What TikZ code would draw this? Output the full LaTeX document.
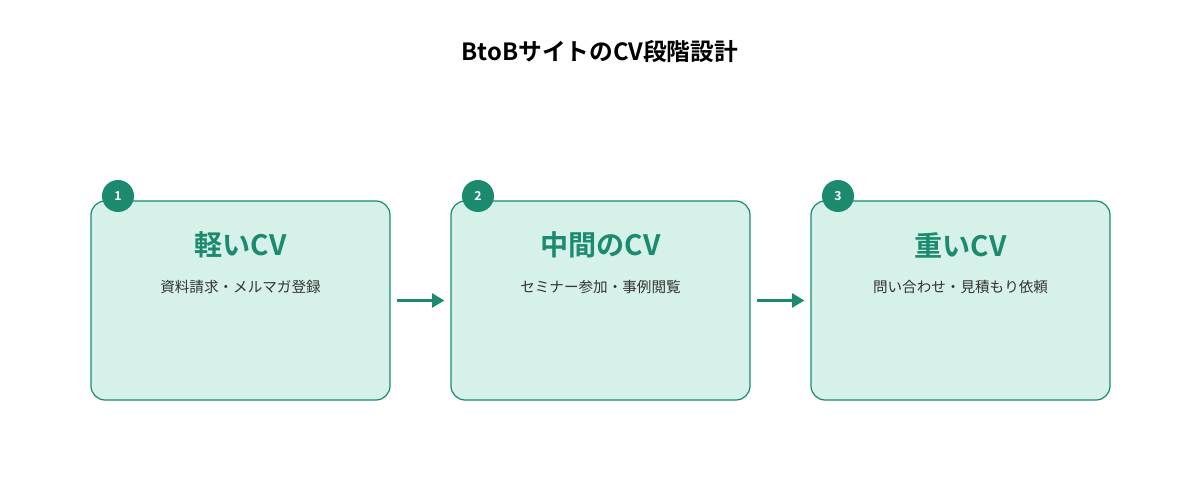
\documentclass[tikz,border=0pt]{standalone}
\usepackage{fontspec}
\setmainfont{Noto Sans CJK JP}[BoldFont={Noto Sans CJK JP Bold}]
\usetikzlibrary{arrows.meta,positioning}
\definecolor{cvteal}{HTML}{1B8A6F}
\definecolor{cvfill}{HTML}{D6F1E9}
\definecolor{cvtext}{HTML}{333333}
\tikzset{
    stage/.style={draw=cvteal, fill=cvfill, line width=0.7pt, rounded corners=8pt,
        minimum width=5.98cm, minimum height=3.98cm},
    badge/.style={circle, fill=cvteal, inner sep=0pt, minimum size=0.64cm,
        text=white, font=\bfseries\fontsize{7}{8}\selectfont},
    head/.style={text=cvteal, font=\bfseries\fontsize{16}{18}\selectfont},
    sub/.style={text=cvtext, font=\fontsize{8.3}{10}\selectfont},
    cvarrow/.style={-{Triangle[length=7pt,width=8pt]}, draw=cvteal, line width=1.3pt}}

\begin{document}
\begin{tikzpicture}
\useasboundingbox (0,0) rectangle (24,-10);
\node[font=\bfseries\fontsize{13.5}{16}\selectfont] (title) at (12,-1.04) {BtoBサイトのCV段階設計};

\node[stage] (s1) at (4.81,-6.01) {};
\node[stage] (s2) at (12.01,-6.01) {};
\node[stage] (s3) at (19.21,-6.01) {};

\node[badge] (b1) at (2.36,-3.92) {1};
\node[badge] (b2) at (9.56,-3.92) {2};
\node[badge] (b3) at (16.76,-3.92) {3};

\node[head] (h1) at (4.81,-4.9) {軽いCV};
\node[head] (h2) at (12.01,-4.9) {中間のCV};
\node[head] (h3) at (19.21,-4.9) {重いCV};

\node[sub] (t1) at (4.81,-5.74) {資料請求・メルマガ登録};
\node[sub] (t2) at (12.01,-5.74) {セミナー参加・事例閲覧};
\node[sub] (t3) at (19.21,-5.74) {問い合わせ・見積もり依頼};

% arrows between the stages
\draw[cvarrow] ([xshift=0.12cm]s1.east) -- ([xshift=-0.12cm]s2.west);
\draw[cvarrow] ([xshift=0.12cm]s2.east) -- ([xshift=-0.12cm]s3.west);
\end{tikzpicture}
\end{document}
